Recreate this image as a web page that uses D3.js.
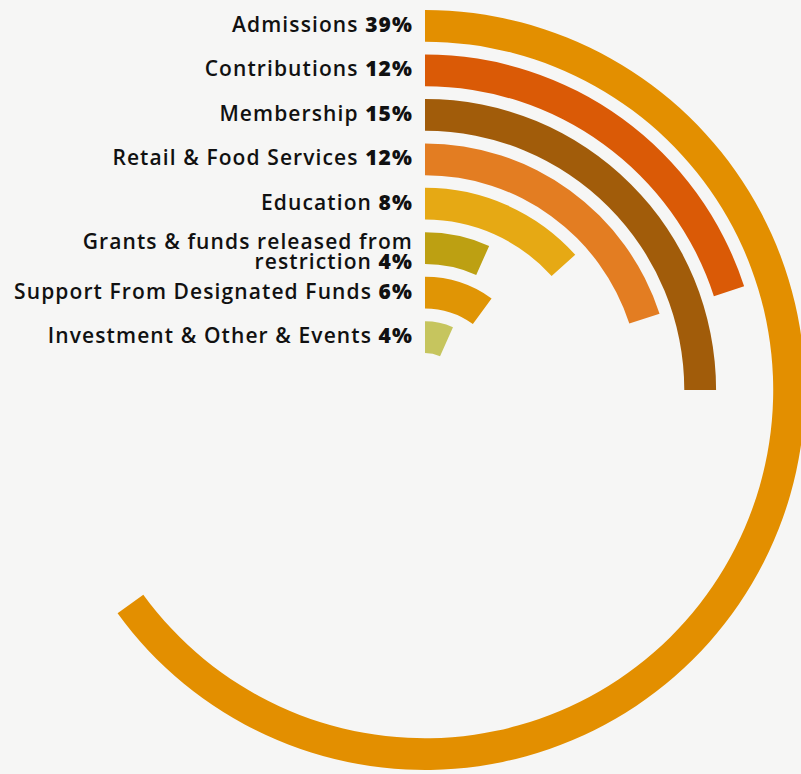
<!DOCTYPE html>
<html>
<head>
<meta charset="utf-8">
<script src="https://cdn.jsdelivr.net/npm/d3@7"></script>
<style>
  body { margin: 0; background: #f6f6f5; }
  svg { display: block; }
</style>
</head>
<body>
<div id="chart"></div>
<script>
// data
var categories = ["Admissions", "Contributions", "Membership", "Retail & Food Services",
    "Education", "Grants & funds released from restriction", "Support From Designated Funds",
    "Investment & Other & Events"];
var values = [39, 12, 15, 12, 8, 4, 6, 4];
// label lines (last line gets the percentage)
var labelLines = [["Admissions"], ["Contributions"], ["Membership"], ["Retail & Food Services"],
    ["Education"], ["Grants & funds released from", "restriction"], ["Support From Designated Funds"],
    ["Investment & Other & Events"]];
var colors = ["#e38f00", "#da5a06", "#a15c0a", "#e37d22", "#e6a914", "#bda012", "#e09505", "#c6c55e"];

var svgWidth = 801;
var svgHeight = 774;
var cx = 425, cy = 390;

var data = categories.map(function (c, i) {
    return { name: c, value: values[i], lines: labelLines[i], color: colors[i] };
});

var svg = d3.select("#chart")
    .append("svg")
    .attr("width", svgWidth)
    .attr("height", svgHeight);

svg.append("rect")
    .attr("width", svgWidth)
    .attr("height", svgHeight)
    .attr("fill", "#f6f6f5");

var chartGroup = svg.append("g")
    .attr("transform", `translate(${cx}, ${cy})`);

// radius: one ring per category, first category outermost
var yScale = d3.scaleBand()
    .domain(categories)
    .range([380, 37])
    .paddingInner(0.285)
    .paddingOuter(0);

// angle: 6 degrees per percent
var xScale = d3.scaleLinear()
    .domain([0, 100])
    .range([0, 600 * Math.PI / 180]);

var arc = d3.arc()
    .innerRadius(d => yScale(d.name))
    .outerRadius(d => yScale(d.name) + yScale.bandwidth())
    .startAngle(0)
    .endAngle(d => xScale(d.value));

chartGroup.selectAll("path")
    .data(data)
    .enter()
    .append("path")
    .attr("d", arc)
    .attr("fill", d => d.color);

// labels to the left of each ring start
var lineH = 20.5;
var labels = chartGroup.selectAll("text.label")
    .data(data)
    .enter()
    .append("text")
    .attr("class", "label")
    .attr("x", -12)
    .attr("y", d => -(yScale(d.name) + yScale.bandwidth() / 2))
    .attr("text-anchor", "end")
    .attr("font-family", "'Open Sans', sans-serif")
    .attr("font-size", "21px")
    .attr("letter-spacing", "1.1px")
    .attr("fill", "#111");

labels.each(function (d) {
    var t = d3.select(this);
    var n = d.lines.length;
    d.lines.forEach(function (line, i) {
        t.append("tspan")
            .attr("x", -12)
            .attr("dy", i === 0 ? (6 - (n - 1) * (lineH / 2 - 5)) : lineH)
            .attr("font-weight", 600)
            .text(line);
        if (i === n - 1) {
            t.append("tspan")
                .attr("font-weight", 800)
                .text(" " + d.value + "%");
        }
    });
});
</script>
</body>
</html>
